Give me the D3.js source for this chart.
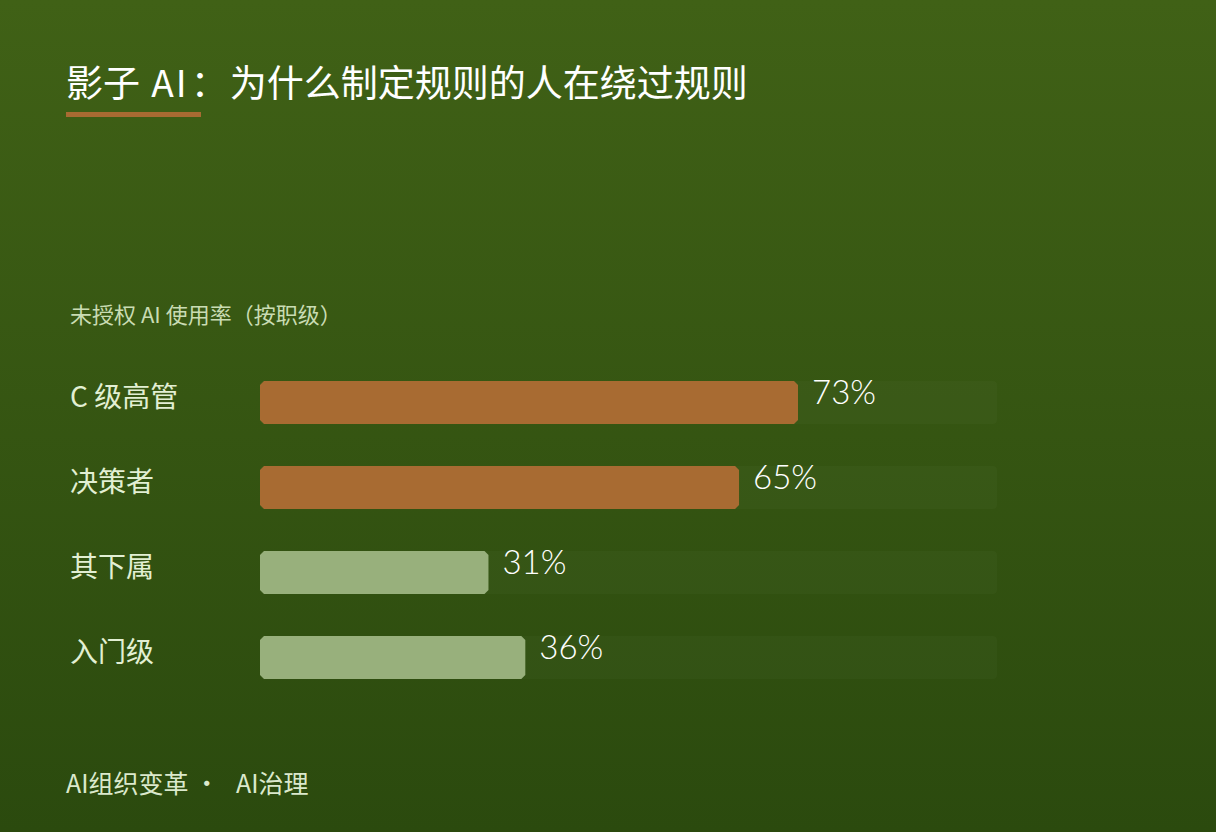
<!DOCTYPE html>
<html lang="zh">
<head>
    <meta charset="UTF-8">
    <title>影子 AI</title>
    <script src="https://d3js.org/d3.v7.min.js"></script>
    <style>
        html, body {
            margin: 0;
            padding: 0;
            width: 1216px;
            height: 832px;
            overflow: hidden;
        }
        svg {
            display: block;
        }
        text {
            font-family: "Noto Sans CJK SC", "Noto Sans", sans-serif;
        }
    </style>
</head>
<body>
    <script>
        // Data
        const categories = ["C 级高管", "决策者", "其下属", "入门级"];
        const values = [73, 65, 31, 36];
        const highlighted = [true, true, false, false];

        const width = 1216;
        const height = 832;

        const svg = d3.select("body")
            .append("svg")
            .attr("width", width)
            .attr("height", height);

        // Background gradient
        const defs = svg.append("defs");
        const grad = defs.append("linearGradient")
            .attr("id", "bg")
            .attr("x1", 0).attr("y1", 0)
            .attr("x2", 0).attr("y2", 1);
        grad.append("stop").attr("offset", "0%").attr("stop-color", "#406116");
        grad.append("stop").attr("offset", "100%").attr("stop-color", "#2b4a0e");

        svg.append("rect")
            .attr("width", width)
            .attr("height", height)
            .attr("fill", "url(#bg)");

        // Title (colon drawn centred, like the JP form)
        const title = svg.append("text")
            .attr("x", 66)
            .attr("y", 97)
            .attr("fill", "#ffffff")
            .style("font-size", "37px")
            .attr("xml:space", "preserve");
        title.append("tspan").text("影子 ");
        title.append("tspan").attr("dx", 3).style("letter-spacing", "2px").text("AI");
        title.append("tspan")
            .style("font-family", "'Noto Sans CJK JP', sans-serif")
            .attr("dx", 2)
            .text("：");
        title.append("tspan").attr("dx", 2).text("为什么制定规则的人在绕过规则");

        svg.append("rect")
            .attr("x", 66)
            .attr("y", 112)
            .attr("width", 135)
            .attr("height", 5)
            .attr("fill", "#a86b32");

        // Subtitle
        svg.append("text")
            .attr("x", 70)
            .attr("y", 323)
            .attr("fill", "#c9dcb3")
            .style("font-size", "22px")
            .text("未授权 AI 使用率（按职级）");

        // Scales
        const barH = 43;
        const step = 85;

        const x = d3.scaleLinear()
            .domain([0, 100])
            .range([260, 997]);

        const y = d3.scaleBand()
            .domain(categories)
            .range([381, 381 + step * (categories.length - 1) + barH])
            .paddingInner(1 - barH / step)
            .paddingOuter(0);

        // chamfered bar path
        function chamfer(x0, y0, w, h, c) {
            return `M${x0 + c},${y0} L${x0 + w - c},${y0} L${x0 + w},${y0 + c} L${x0 + w},${y0 + h - c} L${x0 + w - c},${y0 + h} L${x0 + c},${y0 + h} L${x0},${y0 + h - c} L${x0},${y0 + c} Z`;
        }

        const rows = svg.append("g")
            .selectAll("g")
            .data(categories)
            .enter()
            .append("g");

        // tracks
        rows.append("rect")
            .attr("x", x(0))
            .attr("y", d => y(d))
            .attr("width", x(100) - x(0))
            .attr("height", y.bandwidth())
            .attr("rx", 4)
            .attr("fill", "#ffffff")
            .attr("fill-opacity", 0.025);

        // bars
        rows.append("path")
            .attr("d", (d, i) => chamfer(x(0), y(d), x(values[i]) - x(0), y.bandwidth(), 4))
            .attr("fill", (d, i) => highlighted[i] ? "#a86b32" : "#98b07c");

        // category labels
        rows.append("text")
            .attr("x", 70)
            .attr("y", d => y(d) + 26)
            .attr("fill", "#e2efd3")
            .style("font-size", "28px")
            .text(d => d);

        // value labels
        rows.append("text")
            .attr("x", (d, i) => x(values[i]) + 14)
            .attr("y", d => y(d) + 23)
            .attr("fill", "#ffffff")
            .style("font-size", "33px")
            .style("font-family", "Lato, sans-serif")
            .style("font-weight", 300)
            .text((d, i) => values[i] + "%");

        // Footer
        svg.append("text")
            .attr("x", 66)
            .attr("y", 793)
            .attr("fill", "#dbe9cc")
            .style("font-size", "25px")
            .attr("xml:space", "preserve")
            .text("AI组织变革 ·   AI治理");
    </script>
</body>
</html>
